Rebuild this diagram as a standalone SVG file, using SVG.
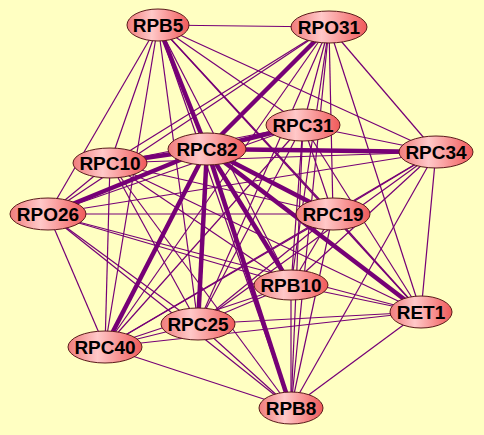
<svg xmlns="http://www.w3.org/2000/svg" width="484" height="435" viewBox="0 0 484 435">
<defs>
<linearGradient id="ng" x1="0" y1="0" x2="1" y2="0">
<stop offset="0" stop-color="#f07c7c"/>
<stop offset="0.4" stop-color="#ffc8c8"/>
<stop offset="1" stop-color="#f05a5a"/>
</linearGradient>
<style>
.e{stroke:#760076;stroke-width:1.2;fill:none}
.t{stroke:#760076;stroke-width:4.5;fill:none}
.n ellipse{fill:url(#ng);stroke:#5a1a1a;stroke-width:1}
.n text{font-family:"Liberation Sans",Arial,sans-serif;font-weight:bold;font-size:19px;fill:#000;text-anchor:middle}
</style>
</defs>
<rect width="484" height="435" fill="#ffffc2"/>
<g id="connectors">
<line class="e" x1="158" y1="25" x2="329" y2="27"/>
<line class="e" x1="158" y1="25" x2="303" y2="125"/>
<line class="e" x1="158" y1="25" x2="436" y2="152"/>
<line class="e" x1="158" y1="25" x2="110" y2="163"/>
<line class="e" x1="158" y1="25" x2="48" y2="214"/>
<line class="e" x1="158" y1="25" x2="333" y2="214"/>
<line class="e" x1="158" y1="25" x2="291" y2="285"/>
<line class="e" x1="158" y1="25" x2="421" y2="312"/>
<line class="e" x1="158" y1="25" x2="198" y2="324"/>
<line class="e" x1="158" y1="25" x2="105" y2="347"/>
<line class="e" x1="158" y1="25" x2="291" y2="408"/>
<line class="e" x1="329" y1="27" x2="303" y2="125"/>
<line class="e" x1="329" y1="27" x2="436" y2="152"/>
<line class="e" x1="329" y1="27" x2="110" y2="163"/>
<line class="e" x1="329" y1="27" x2="48" y2="214"/>
<line class="e" x1="329" y1="27" x2="333" y2="214"/>
<line class="e" x1="329" y1="27" x2="291" y2="285"/>
<line class="e" x1="329" y1="27" x2="421" y2="312"/>
<line class="e" x1="329" y1="27" x2="198" y2="324"/>
<line class="e" x1="329" y1="27" x2="105" y2="347"/>
<line class="e" x1="329" y1="27" x2="291" y2="408"/>
<line class="e" x1="303" y1="125" x2="436" y2="152"/>
<line class="e" x1="303" y1="125" x2="110" y2="163"/>
<line class="e" x1="303" y1="125" x2="48" y2="214"/>
<line class="e" x1="303" y1="125" x2="333" y2="214"/>
<line class="e" x1="303" y1="125" x2="291" y2="285"/>
<line class="e" x1="303" y1="125" x2="421" y2="312"/>
<line class="e" x1="303" y1="125" x2="198" y2="324"/>
<line class="e" x1="303" y1="125" x2="105" y2="347"/>
<line class="e" x1="303" y1="125" x2="291" y2="408"/>
<line class="e" x1="436" y1="152" x2="110" y2="163"/>
<line class="e" x1="436" y1="152" x2="48" y2="214"/>
<line class="e" x1="436" y1="152" x2="333" y2="214"/>
<line class="e" x1="436" y1="152" x2="291" y2="285"/>
<line class="e" x1="436" y1="152" x2="421" y2="312"/>
<line class="e" x1="436" y1="152" x2="198" y2="324"/>
<line class="e" x1="436" y1="152" x2="105" y2="347"/>
<line class="e" x1="436" y1="152" x2="291" y2="408"/>
<line class="e" x1="110" y1="163" x2="48" y2="214"/>
<line class="e" x1="110" y1="163" x2="333" y2="214"/>
<line class="e" x1="110" y1="163" x2="291" y2="285"/>
<line class="e" x1="110" y1="163" x2="421" y2="312"/>
<line class="e" x1="110" y1="163" x2="198" y2="324"/>
<line class="e" x1="110" y1="163" x2="105" y2="347"/>
<line class="e" x1="110" y1="163" x2="291" y2="408"/>
<line class="e" x1="48" y1="214" x2="333" y2="214"/>
<line class="e" x1="48" y1="214" x2="291" y2="285"/>
<line class="e" x1="48" y1="214" x2="421" y2="312"/>
<line class="e" x1="48" y1="214" x2="198" y2="324"/>
<line class="e" x1="48" y1="214" x2="105" y2="347"/>
<line class="e" x1="48" y1="214" x2="291" y2="408"/>
<line class="e" x1="333" y1="214" x2="291" y2="285"/>
<line class="e" x1="333" y1="214" x2="421" y2="312"/>
<line class="e" x1="333" y1="214" x2="198" y2="324"/>
<line class="e" x1="333" y1="214" x2="105" y2="347"/>
<line class="e" x1="333" y1="214" x2="291" y2="408"/>
<line class="e" x1="291" y1="285" x2="421" y2="312"/>
<line class="e" x1="291" y1="285" x2="198" y2="324"/>
<line class="e" x1="291" y1="285" x2="105" y2="347"/>
<line class="e" x1="291" y1="285" x2="291" y2="408"/>
<line class="e" x1="421" y1="312" x2="198" y2="324"/>
<line class="e" x1="421" y1="312" x2="105" y2="347"/>
<line class="e" x1="421" y1="312" x2="291" y2="408"/>
<line class="e" x1="198" y1="324" x2="105" y2="347"/>
<line class="e" x1="198" y1="324" x2="291" y2="408"/>
<line class="e" x1="105" y1="347" x2="291" y2="408"/>
<line class="t" x1="207" y1="149" x2="158" y2="25"/>
<line class="t" x1="207" y1="149" x2="329" y2="27"/>
<line class="t" x1="207" y1="149" x2="303" y2="125"/>
<line class="t" x1="207" y1="149" x2="436" y2="152"/>
<line class="t" x1="207" y1="149" x2="110" y2="163"/>
<line class="t" x1="207" y1="149" x2="48" y2="214"/>
<line class="t" x1="207" y1="149" x2="333" y2="214"/>
<line class="t" x1="207" y1="149" x2="291" y2="285"/>
<line class="t" x1="207" y1="149" x2="421" y2="312"/>
<line class="t" x1="207" y1="149" x2="198" y2="324"/>
<line class="t" x1="207" y1="149" x2="105" y2="347"/>
<line class="t" x1="207" y1="149" x2="291" y2="408"/>
</g>
<g id="RPB5" class="n"><ellipse cx="158" cy="25" rx="31" ry="16"/><text x="158" y="32">RPB5</text></g>
<g id="RPO31" class="n"><ellipse cx="329" cy="27" rx="38" ry="16"/><text x="329" y="34">RPO31</text></g>
<g id="RPC31" class="n"><ellipse cx="303" cy="125" rx="37" ry="16"/><text x="303" y="132">RPC31</text></g>
<g id="RPC34" class="n"><ellipse cx="436" cy="152" rx="37" ry="16"/><text x="436" y="159">RPC34</text></g>
<g id="RPC10" class="n"><ellipse cx="110" cy="163" rx="37" ry="15"/><text x="110" y="170">RPC10</text></g>
<g id="RPC82" class="n"><ellipse cx="207" cy="149" rx="39" ry="16"/><text x="207" y="156">RPC82</text></g>
<g id="RPO26" class="n"><ellipse cx="48" cy="214" rx="38" ry="16"/><text x="48" y="221">RPO26</text></g>
<g id="RPC19" class="n"><ellipse cx="333" cy="214" rx="37" ry="16"/><text x="333" y="221">RPC19</text></g>
<g id="RPB10" class="n"><ellipse cx="291" cy="285" rx="37" ry="15"/><text x="291" y="292">RPB10</text></g>
<g id="RET1" class="n"><ellipse cx="421" cy="312" rx="31" ry="16"/><text x="421" y="319">RET1</text></g>
<g id="RPC25" class="n"><ellipse cx="198" cy="324" rx="37" ry="16"/><text x="198" y="331">RPC25</text></g>
<g id="RPC40" class="n"><ellipse cx="105" cy="347" rx="37" ry="16"/><text x="105" y="354">RPC40</text></g>
<g id="RPB8" class="n"><ellipse cx="291" cy="408" rx="32" ry="16"/><text x="291" y="415">RPB8</text></g>
</svg>
